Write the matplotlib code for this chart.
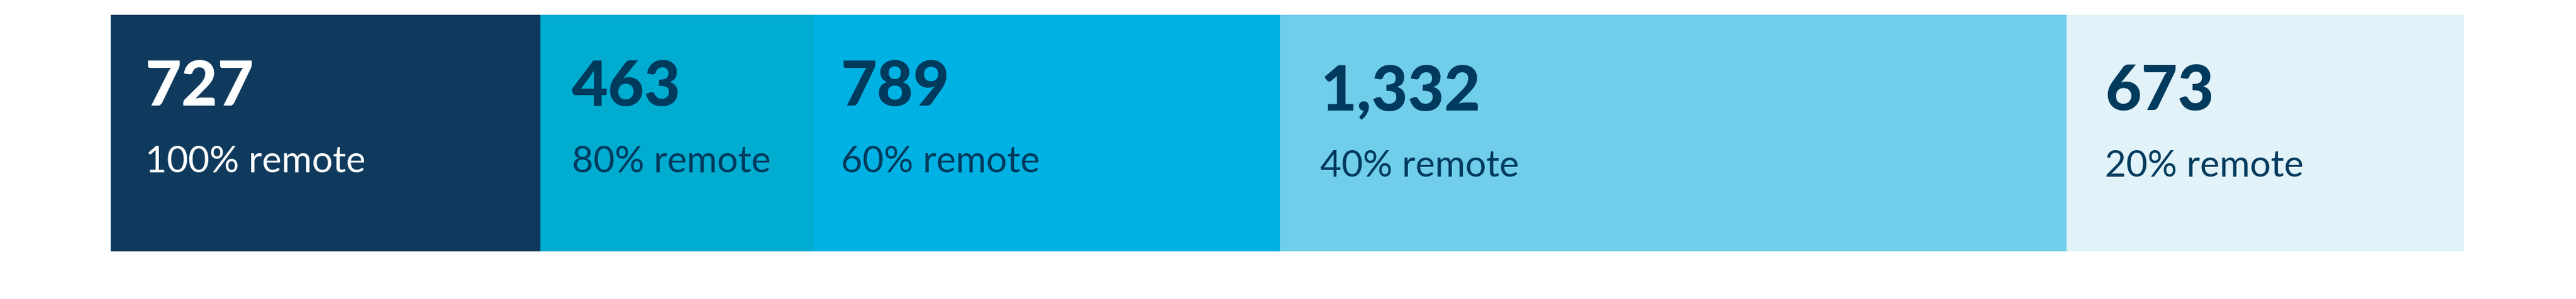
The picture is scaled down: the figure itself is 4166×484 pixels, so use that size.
import matplotlib
matplotlib.use("Agg")
import matplotlib.pyplot as plt

# Data
counts = [727, 463, 789, 1332, 673]
labels = ["100% remote", "80% remote", "60% remote", "40% remote", "20% remote"]
colors = ["#0F3A5D", "#00ACD0", "#00B2E3", "#70CEEA", "#E1F2F8"]
text_colors = ["#FFFFFF", "#003A5D", "#003A5D", "#003A5D", "#003A5D"]

W, H, DPI = 4166, 485, 100
fig = plt.figure(figsize=(W / DPI, H / DPI), dpi=DPI)
fig.patch.set_facecolor("white")

x0, x1 = 179, 3985
y_top, y_bot = 25, 408
ax = fig.add_axes([x0 / W, 1 - y_bot / H, (x1 - x0) / W, (y_bot - y_top) / H])

total = sum(counts)
lefts = [sum(counts[:i]) for i in range(len(counts))]
for c, l, col in zip(counts, lefts, colors):
    ax.barh(0, c, left=l, height=1, color=col, edgecolor="none")

ax.set_xlim(0, total)
ax.set_ylim(-0.5, 0.5)
ax.axis("off")

px = 72.0 / DPI  # points per pixel
# per-bar text offsets in pixels (x from segment left, y extra shift down)
dx = [56, 51, 44, 65, 62]
dy = [0, 0, 0, 7, 7]
for c, l, lab, tc, ox, oy in zip(counts, lefts, labels, text_colors, dx, dy):
    ax.annotate(f"{c:,}", xy=(l, 0.5), xytext=(ox * px, -(146 + oy) * px),
                textcoords="offset points", ha="left", va="baseline",
                fontsize=73, fontweight="black", family="Lato", color=tc)
    ax.annotate(lab, xy=(l, 0.5), xytext=(ox * px, -(254 + oy) * px),
                textcoords="offset points", ha="left", va="baseline",
                fontsize=43, fontweight="normal", family="Lato", color=tc)

fig.savefig("out.png", dpi=DPI, facecolor="white")
